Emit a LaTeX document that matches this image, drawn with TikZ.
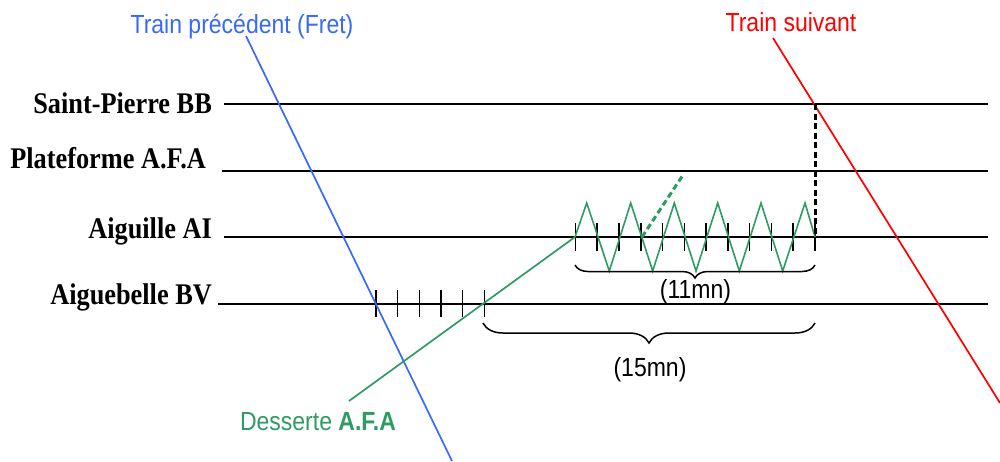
\documentclass[tikz,border=0pt]{standalone}
\usepackage{fontspec}
\setmainfont{Liberation Sans}
\newfontfamily\stationfont{Liberation Serif}
\usetikzlibrary{decorations.pathreplacing}
\definecolor{trainblue}{RGB}{55,105,250}
\definecolor{trainred}{RGB}{255,0,0}
\definecolor{afagreen}{RGB}{46,155,100}
\newcommand{\tallbox}[1]{\scalebox{1}[1.14]{#1}}
\begin{document}
\begin{tikzpicture}[x=1pt,y=-1pt,
  station/.style={anchor=base east,inner sep=0pt,font=\stationfont\bfseries\fontsize{26.3}{28}\selectfont},
  label/.style={anchor=base,inner sep=0pt,font=\fontsize{23}{26}\selectfont},
  trackline/.style={line width=2.1pt,black},
  tickmark/.style={line width=1.6pt,black},
  trainline/.style={line width=1.7pt},
  dashline/.style={line width=3pt,dash pattern=on 6pt off 3.5pt},
  bracemark/.style={line width=1.5pt,decorate,decoration={brace,mirror,amplitude=#1}}
]
\useasboundingbox (0,0) rectangle (1000,461);

% stations
\node[station] (sp) at (212,113) {\tallbox{Saint-Pierre BB}};
\node[station] (pf) at (206,168) {\tallbox{Plateforme A.F.A}};
\node[station] (ai) at (212,238) {\tallbox{Aiguille AI}};
\node[station] (bv) at (212,304) {\tallbox{Aiguebelle BV}};

\coordinate (spL) at (224,104); \coordinate (spR) at (988,104);
\coordinate (pfL) at (222,171); \coordinate (pfR) at (988,171);
\coordinate (aiL) at (224,237); \coordinate (aiR) at (988,237);
\coordinate (bvL) at (218,304); \coordinate (bvR) at (988,304);
\draw[trackline] (spL) -- (spR);
\draw[trackline] (pfL) -- (pfR);
\draw[trackline] (aiL) -- (aiR);
\draw[trackline] (bvL) -- (bvR);

% ticks
\foreach \i in {0,...,11} \draw[tickmark] ({575.5+21.77*\i},223) -- ({575.5+21.77*\i},251);
\foreach \i in {0,...,5} \draw[tickmark] ({376+21.66*\i},290) -- ({376+21.66*\i},317);

% trains
\node[label,text=trainblue] (prec) at (242,33) {\tallbox{Train précédent (Fret)}};
\node[label,text=trainred] (suiv) at (791,31) {\tallbox{Train suivant}};
\coordinate (precA) at (246,36); \coordinate (precB) at (452,461);
\coordinate (suivA) at (773,38); \coordinate (suivB) at (1000,403);
\draw[trainline,trainblue] (precA) -- (precB);
\draw[trainline,trainred] (suivA) -- (suivB);

% desserte
\node[label,text=afagreen] (des) at (318,430) {\tallbox{Desserte \textbf{A.F.A}}};
\coordinate (desA) at (349,401); \coordinate (desB) at (575,237);
\draw[trainline,afagreen] (desA) -- (desB);
\draw[line width=1.6pt,afagreen,line join=miter]
  (desB) -- (586.7,203) -- (609.3,271) -- (630.7,203) -- (652.7,271) -- (674.3,203)
  -- (696,271) -- (717.7,203) -- (739.3,271) -- (761,203) -- (782.7,271) -- (805,203)
  -- (815,237);
\coordinate (dgA) at (642,237); \coordinate (dgB) at (683,175);
\draw[dashline,afagreen] (dgA) -- (dgB);
\coordinate (vdA) at (815,104); \coordinate (vdB) at (815,237);
\draw[dashline,black] (vdA) -- (vdB);

% braces
\coordinate (b11A) at (575,265); \coordinate (b11B) at (815,265);
\draw[bracemark=13pt] (b11A) -- (b11B);
\node[label] (m11) at (695.5,298) {\tallbox{(11mn)}};
\coordinate (b15A) at (483,323); \coordinate (b15B) at (815,323);
\draw[bracemark=20pt] (b15A) -- (b15B);
\node[label] (m15) at (650,376.5) {\tallbox{(15mn)}};
\end{tikzpicture}
\end{document}
